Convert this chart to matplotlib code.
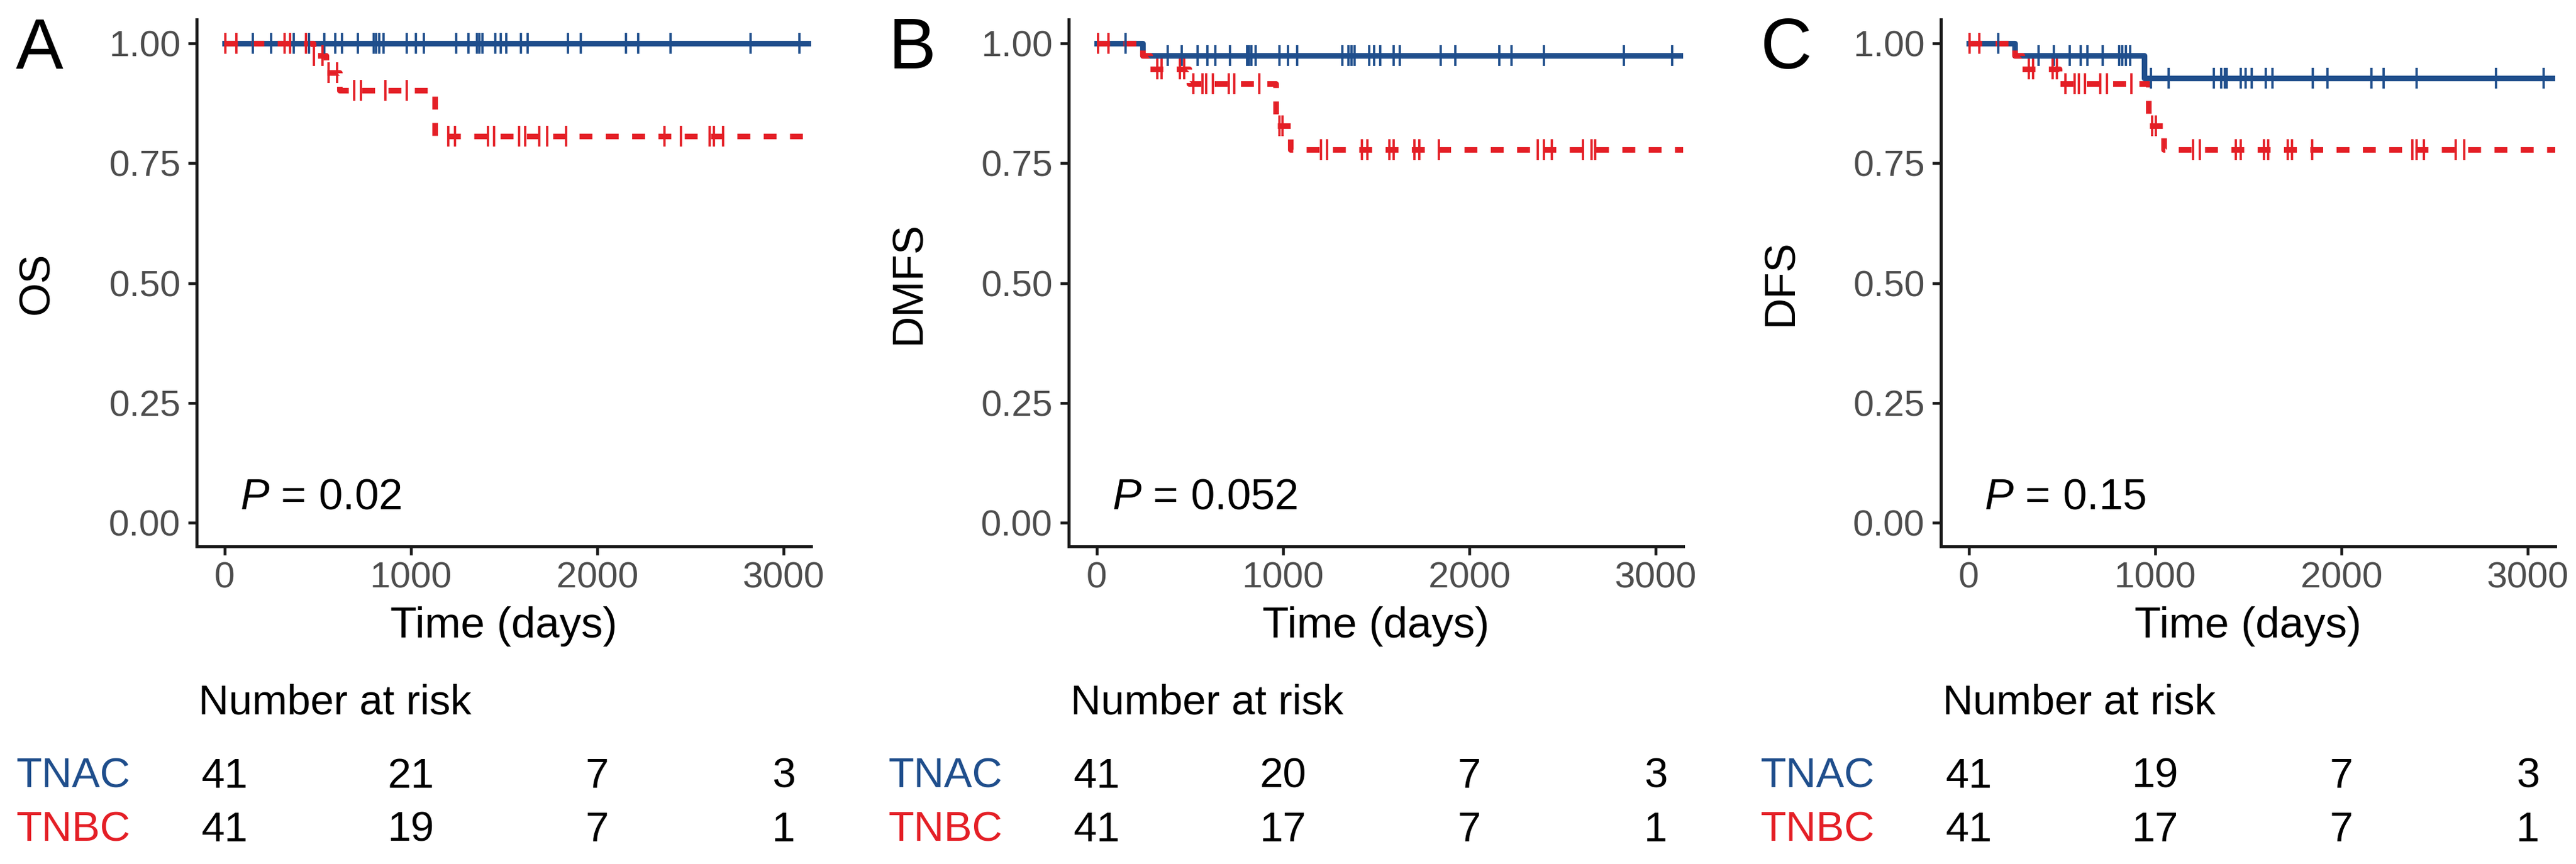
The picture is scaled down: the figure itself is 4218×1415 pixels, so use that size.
import numpy as np
import matplotlib
matplotlib.use('Agg')
import matplotlib.pyplot as plt
import matplotlib.transforms as mtransforms

plt.rcParams['font.family'] = ['Liberation Sans', 'DejaVu Sans']
plt.rcParams['mathtext.fontset'] = 'custom'
plt.rcParams['mathtext.rm'] = 'Liberation Sans'
plt.rcParams['mathtext.it'] = 'Liberation Sans:italic'

# ---- data ----
groups = ['TNAC', 'TNBC']
panel_letters = ['A', 'B', 'C']
y_titles = ['OS', 'DMFS', 'DFS']
p_values = ['0.02', '0.052', '0.15']
risk_times = [0, 1000, 2000, 3000]

# OS
os_tnac_time = [0, 3150]
os_tnac_surv = [1.0, 1.0]
os_tnac_cens = [150, 249, 370, 453, 535, 594, 629, 715, 802, 815, 831, 853, 976, 1026, 1070,
                1244, 1310, 1353, 1367, 1384, 1452, 1483, 1512, 1590, 1626, 1841, 1913, 2155,
                2221, 2392, 2822, 3086]
os_tnbc_time = [0, 475, 546, 618, 1127, 3150]
os_tnbc_surv = [1.0, 0.975, 0.939, 0.902, 0.806, 0.806]
os_tnbc_cens = [5, 63, 322, 352, 436, 480, 524, 557, 605, 695, 730, 862, 976, 1200, 1237, 1413,
                1446, 1582, 1613, 1687, 1731, 1834, 2361, 2449, 2603, 2625, 2675]

# DMFS
dmfs_tnac_time = [0, 248, 3150]
dmfs_tnac_surv = [1.0, 0.975, 0.975]
dmfs_tnac_cens = [154, 380, 457, 540, 595, 637, 716, 808, 818, 830, 852, 980, 1028, 1076, 1318,
                  1350, 1368, 1384, 1463, 1489, 1522, 1594, 1627, 1847, 1924, 2159, 2225, 2400,
                  2828, 3087]
dmfs_tnbc_time = [0, 245, 285, 496, 962, 1039, 3150]
dmfs_tnbc_surv = [1.0, 0.975, 0.947, 0.916, 0.828, 0.778, 0.778]
dmfs_tnbc_cens = [7, 62, 325, 347, 446, 468, 518, 567, 589, 622, 709, 738, 874, 982, 998, 1204,
                  1236, 1423, 1452, 1570, 1594, 1704, 1730, 1836, 2367, 2400, 2444, 2609, 2657,
                  2674]

# DFS
dfs_tnac_time = [0, 247, 941, 3150]
dfs_tnac_surv = [1.0, 0.975, 0.927, 0.927]
dfs_tnac_cens = [158, 375, 457, 543, 602, 637, 719, 808, 824, 843, 866, 976, 1074, 1315, 1355,
                 1373, 1385, 1460, 1486, 1518, 1595, 1631, 1846, 1923, 2161, 2227, 2402, 2828,
                 3085]
dfs_tnbc_time = [0, 245, 285, 485, 964, 1046, 3150]
dfs_tnbc_surv = [1.0, 0.975, 0.947, 0.916, 0.828, 0.778, 0.778]
dfs_tnbc_cens = [5, 57, 322, 345, 450, 473, 520, 567, 590, 625, 707, 742, 871, 985, 1003, 1205,
                 1240, 1432, 1460, 1584, 1607, 1712, 1736, 1841, 2379, 2402, 2444, 2612, 2659]

# number at risk
risk_tnac = [[41, 21, 7, 3], [41, 20, 7, 3], [41, 19, 7, 3]]
risk_tnbc = [[41, 19, 7, 1], [41, 17, 7, 1], [41, 17, 7, 1]]

curves = [
    [(os_tnac_time, os_tnac_surv, os_tnac_cens), (os_tnbc_time, os_tnbc_surv, os_tnbc_cens)],
    [(dmfs_tnac_time, dmfs_tnac_surv, dmfs_tnac_cens), (dmfs_tnbc_time, dmfs_tnbc_surv, dmfs_tnbc_cens)],
    [(dfs_tnac_time, dfs_tnac_surv, dfs_tnac_cens), (dfs_tnbc_time, dfs_tnbc_surv, dfs_tnbc_cens)],
]

# ---- style ----
blue = '#1F4E8C'
red = '#E41F26'
colors = [blue, red]
styles = ['-', (0, (2.3, 2.4))]
grey = '#4D4D4D'

W, H = 4218, 1415
fig = plt.figure(figsize=(W / 300, H / 300), dpi=300)

ax_left_px = [322, 1750, 3178]
ax_w_px, ax_top_px, ax_bot_px = 1006, 32, 895


def step_value(times, surv, t):
    i = np.searchsorted(times, t, side='right') - 1
    return np.asarray(surv)[i]


for k in range(3):
    left = ax_left_px[k] / W
    ax = fig.add_axes([left, 1 - ax_bot_px / H, ax_w_px / W, (ax_bot_px - ax_top_px) / H])

    for g in range(2):
        t, s, c = curves[k][g]
        ax.step(t, s, where='post', color=colors[g], lw=2.2, linestyle=styles[g], zorder=3 + g)
    for g in range(2):
        t, s, c = curves[k][g]
        cy = [step_value(t, s, x) for x in c]
        ax.plot(c, cy, linestyle='none', marker='|', markersize=8, markeredgewidth=0.9,
                color=colors[g], zorder=5 + g)

    ax.set_xlim(-150, 3147)
    ax.set_ylim(-0.05, 1.05)
    ax.set_xticks([0, 1000, 2000, 3000])
    ax.set_yticks([0, 0.25, 0.5, 0.75, 1.0])
    ax.set_yticklabels(['0.00', '0.25', '0.50', '0.75', '1.00'])
    for side in ['top', 'right']:
        ax.spines[side].set_visible(False)
    for side in ['left', 'bottom']:
        ax.spines[side].set_linewidth(1.2)
        ax.spines[side].set_color('#1A1A1A')
    ax.tick_params(direction='out', length=3.3, width=1.1, color='#1A1A1A',
                   labelsize=14.5, labelcolor=grey)
    ax.tick_params(axis='x', pad=2.5)
    ax.tick_params(axis='y', pad=3.0)

    ax.set_xlabel('Time (days)', fontsize=17, va='baseline')
    ax.xaxis.set_label_coords(0.5, -(1044 - ax_bot_px) / (ax_bot_px - ax_top_px))
    ax.set_ylabel(y_titles[k], fontsize=17, va='center')
    ax.yaxis.set_label_coords((61 - 322) / ax_w_px, 0.5)

    ax.text(84, 0.029, r'$\mathit{P}$ = ' + p_values[k], fontsize=17, va='baseline', ha='left')

    # panel letter
    fig.text((26 + k * 1428) / W, 1 - 112 / H, panel_letters[k], fontsize=28,
             ha='left', va='baseline')

    # risk table
    tr = mtransforms.blended_transform_factory(ax.transData, fig.transFigure)
    fig.text(left + 3 / W, 1 - 1170 / H, 'Number at risk', fontsize=16.5, ha='left', va='baseline')
    rows = [risk_tnac[k], risk_tnbc[k]]
    base_px = [1290, 1378]
    for g in range(2):
        fig.text((27 + k * 1427.5) / W, 1 - base_px[g] / H, groups[g], fontsize=16.5,
                 color=colors[g], ha='left', va='baseline')
        for tx, n in zip(risk_times, rows[g]):
            ax.text(tx, 1 - base_px[g] / H, str(n), transform=tr, fontsize=16.5,
                    ha='center', va='baseline', clip_on=False)

fig.savefig('out.png', dpi=300)
